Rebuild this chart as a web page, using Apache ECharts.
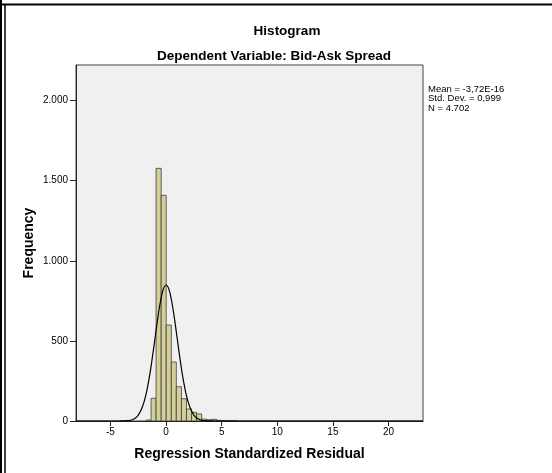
<!DOCTYPE html>
<html>
<head>
<meta charset="utf-8">
<script src="https://cdn.jsdelivr.net/npm/echarts@6/dist/echarts.min.js"></script>
<style>html,body{margin:0;padding:0;background:#fff}#c{width:552px;height:473px}</style>
</head>
<body>
<div id="c"></div>
<script>
// Histogram bins (left edge, right edge) and frequencies
var binStart = [-1.80, -1.35, -0.90, -0.44, 0.01, 0.47, 0.92, 1.38, 1.83, 2.29, 2.74, 3.20, 3.65, 4.11, 4.56, 5.02, 5.47, 5.93];
var binEnd   = [-1.35, -0.90, -0.44, 0.01, 0.47, 0.92, 1.38, 1.83, 2.29, 2.74, 3.20, 3.65, 4.11, 4.56, 5.02, 5.47, 5.93, 6.38];
var counts   = [6, 142, 1577, 1409, 599, 368, 214, 139, 75, 54, 44, 12, 8, 10, 4, 3, 2, 1];
// Normal curve points
var curveX = [-8.1, -4.5, -4.25, -4, -3.75, -3.5, -3.25, -3, -2.75, -2.5, -2.25, -2, -1.75, -1.5, -1.25, -1, -0.75, -0.5, -0.25, 0, 0.25, 0.5, 0.75, 1, 1.25, 1.5, 1.75, 2, 2.25, 2.5, 2.75, 3, 3.25, 3.5, 3.75, 4, 4.25, 4.5, 23.1];
var curveY = [0, 0, 0, 0.3, 0.8, 1.9, 4.3, 9.4, 19, 37, 68, 115, 184, 275, 389, 515, 641, 749, 823, 849, 823, 749, 641, 515, 389, 275, 184, 115, 68, 37, 19, 9.4, 4.3, 1.9, 0.8, 0.3, 0, 0, 0];
var xTicks = [-5, 0, 5, 10, 15, 20];
var yTicks = [0, 500, 1000, 1500, 2000];
var statsLines = ['Mean = -3,72E-16', 'Std. Dev. = 0,999', 'N = 4.702'];

var barData = binStart.map(function (s, i) { return [s, binEnd[i], counts[i]]; });
var lineData = curveX.map(function (x, i) { return [x, curveY[i]]; });

function fmtThousands(v) {
  return String(v).replace(/\B(?=(\d{3})+(?!\d))/g, '.');
}

var chart = echarts.init(document.getElementById('c'), null, { renderer: 'canvas' });
var FONT = '"Liberation Sans", Arial, sans-serif';
chart.setOption({
  animation: false,
  backgroundColor: '#ffffff',
  title: [
    { text: 'Histogram', left: 282, top: 19, textAlign: 'center',
      textStyle: { fontFamily: FONT, fontWeight: 'bold', fontSize: 13.5, color: '#000' } },
    { text: 'Dependent Variable: Bid-Ask Spread', left: 269, top: 44, textAlign: 'center',
      textStyle: { fontFamily: FONT, fontWeight: 'bold', fontSize: 13.5, color: '#000' } }
  ],
  grid: { left: 76, right: 129, top: 65, bottom: 52, show: true, backgroundColor: '#f0f0f0', borderColor: '#444', borderWidth: 1 },
  xAxis: {
    type: 'value', min: -8.1, max: 23.1,
    name: 'Regression Standardized Residual', nameLocation: 'middle', nameGap: 26, nameMoveOverlap: false,
    nameTextStyle: { fontFamily: FONT, fontWeight: 'bold', fontSize: 14, color: '#000' },
    splitLine: { show: false },
    axisLine: { show: true, onZero: false, lineStyle: { color: '#222', width: 1 } },
    axisTick: { show: true, length: 5, customValues: xTicks, lineStyle: { color: '#222' } },
    axisLabel: { customValues: xTicks, fontFamily: FONT, fontSize: 10, color: '#000', margin: 6 }
  },
  yAxis: {
    type: 'value', min: 0, max: 2222,
    name: 'Frequency', nameLocation: 'middle', nameGap: 40, nameRotate: 90, nameMoveOverlap: false,
    nameTextStyle: { fontFamily: FONT, fontWeight: 'bold', fontSize: 14, color: '#000' },
    splitLine: { show: false },
    axisLine: { show: true, onZero: false, lineStyle: { color: '#222', width: 1 } },
    axisTick: { show: true, length: 6, customValues: yTicks, lineStyle: { color: '#222' } },
    axisLabel: { customValues: yTicks, fontFamily: FONT, fontSize: 10, color: '#000', margin: 8,
      formatter: function (v) { return fmtThousands(v); } }
  },
  series: [
    {
      type: 'custom',
      data: barData,
      clip: true,
      renderItem: function (params, api) {
        var p0 = api.coord([api.value(0), api.value(2)]);
        var p1 = api.coord([api.value(1), 0]);
        return {
          type: 'rect',
          shape: { x: p0[0], y: p0[1], width: p1[0] - p0[0], height: p1[1] - p0[1] },
          style: { fill: '#d4cf98', stroke: '#3c3c3c', lineWidth: 0.8 }
        };
      },
      encode: { x: [0, 1], y: 2 },
      z: 2
    },
    {
      type: 'line',
      data: lineData,
      smooth: 0.4,
      symbol: 'none',
      lineStyle: { color: '#000', width: 1.2 },
      z: 3
    }
  ],
  graphic: [
    { type: 'text', left: 428, top: 84,
      style: { text: statsLines.join('\n'), font: '9.5px ' + FONT, fill: '#000', lineHeight: 9.5 } },
    { type: 'line', shape: { x1: 0, y1: 4.5, x2: 552, y2: 4.5 }, style: { stroke: '#000', lineWidth: 2 } },
    { type: 'line', shape: { x1: 1, y1: 0, x2: 1, y2: 473 }, style: { stroke: '#000', lineWidth: 2 } },
    { type: 'line', shape: { x1: 5, y1: 4, x2: 5, y2: 473 }, style: { stroke: '#000', lineWidth: 1.5 } }
  ]
});
</script>
</body>
</html>
